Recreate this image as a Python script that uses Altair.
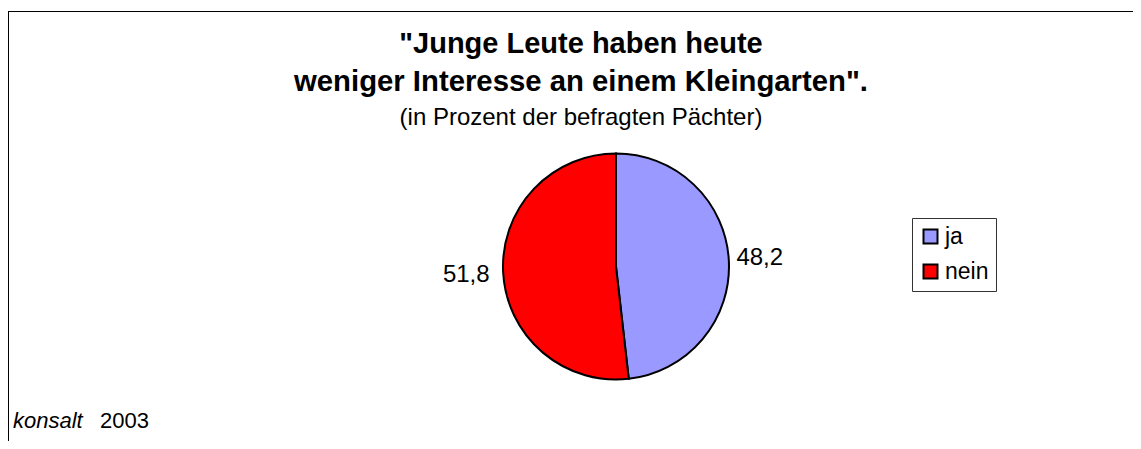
import altair as alt
import pandas as pd

categories = ["ja", "nein"]
values = [48.2, 51.8]
colors = ["#9999FF", "#FF0000"]
title_lines = ['"Junge Leute haben heute', 'weniger Interesse an einem Kleingarten".']
subtitle = "(in Prozent der befragten Pächter)"
footer_source = "konsalt"
footer_year = "2003"

labels = [f"{v:.1f}".replace(".", ",") for v in values]
df = pd.DataFrame({"cat": categories, "value": values, "label": labels, "ord": list(range(len(categories)))})

CX, CY, R = 608, 258.5, 113
TX = 573

base = alt.Chart(df)

pie = base.mark_arc(radius=R, stroke="black", strokeWidth=2).encode(
    theta=alt.Theta("value:Q", stack=True),
    order=alt.Order("ord:Q"),
    x=alt.value(CX),
    y=alt.value(CY),
    color=alt.Color(
        "cat:N",
        scale=alt.Scale(domain=categories, range=colors),
        legend=alt.Legend(
            title=None,
            orient="none",
            legendX=904,
            legendY=210,
            symbolType="square",
            symbolSize=196,
            symbolStrokeColor="black",
            symbolStrokeWidth=2,
            symbolOpacity=1,
            labelFont="Liberation Sans",
            labelFontSize=23,
            labelColor="black",
            labelOffset=3,
            rowPadding=11,
            padding=7,
            strokeColor="#333",
            fillColor="white",
        ),
    ),
)

text = base.mark_text(radius=147, font="Liberation Sans", fontSize=24, color="black").encode(
    theta=alt.Theta("value:Q", stack=True),
    order=alt.Order("ord:Q"),
    x=alt.value(CX - 3),
    y=alt.value(CY),
    text="label:N",
)

one = alt.Chart(pd.DataFrame({"k": [0]}))
top_rule = one.mark_rule(color="black", strokeWidth=1).encode(
    x=alt.value(0), x2=alt.value(1133), y=alt.value(3.5)
)
left_rule = one.mark_rule(color="black", strokeWidth=1).encode(
    x=alt.value(0.5), y=alt.value(3), y2=alt.value(450)
)

def title_text(s, y, size, weight):
    return one.mark_text(
        align="center", baseline="alphabetic", font="Liberation Sans",
        fontSize=size, fontWeight=weight, color="black"
    ).encode(x=alt.value(TX), y=alt.value(y), text=alt.value(s))

t1 = title_text(title_lines[0], 45, 29, "bold")
t2 = title_text(title_lines[1], 83, 29.3, "bold")
t3 = title_text(subtitle, 117, 24, "normal")

foot1 = one.mark_text(
    align="left", baseline="alphabetic", font="Liberation Sans", fontSize=22,
    fontStyle="italic", color="black"
).encode(x=alt.value(5), y=alt.value(420), text=alt.value(footer_source))
foot2 = one.mark_text(
    align="left", baseline="alphabetic", font="Liberation Sans", fontSize=22,
    color="black"
).encode(x=alt.value(92), y=alt.value(420), text=alt.value(footer_year))

chart = alt.layer(top_rule, left_rule, t1, t2, t3, pie, text, foot1, foot2).properties(
    width=1125,
    height=433,
    padding=0,
    autosize=alt.AutoSizeParams(type="none"),
).configure_view(stroke=None)

chart.save("out.html", embed_options={"renderer": "svg", "actions": False})
